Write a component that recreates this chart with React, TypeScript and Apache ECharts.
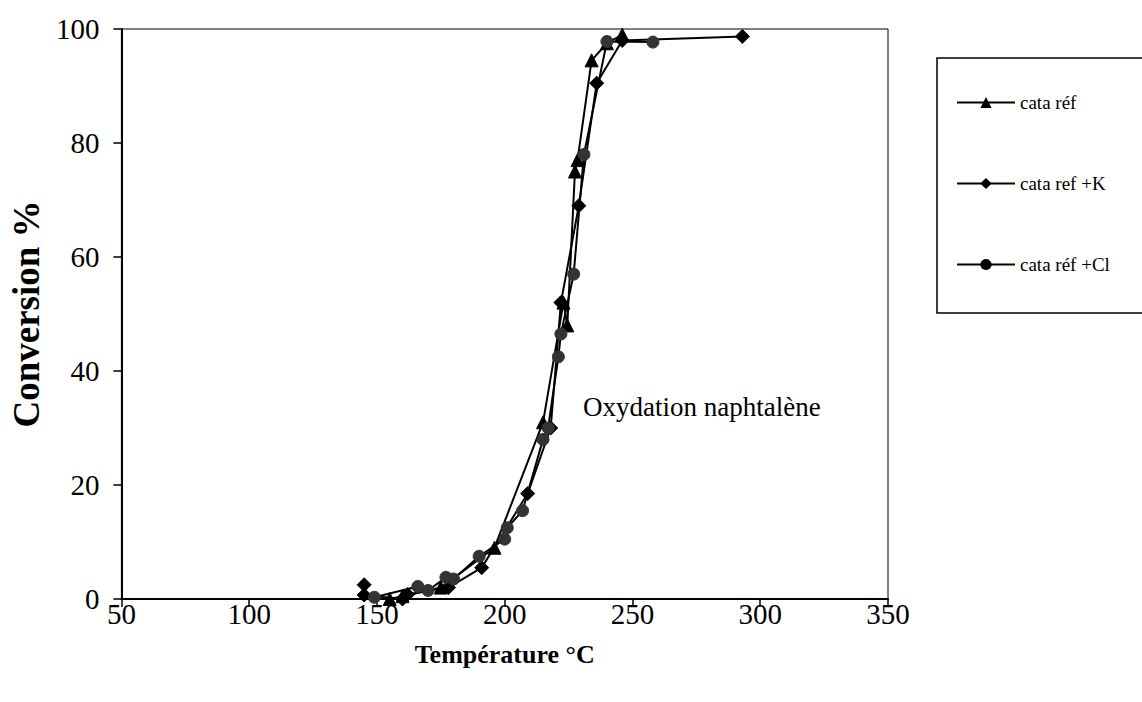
import React, { useEffect, useRef } from "react";
import * as echarts from "echarts";

const xTicks = [50, 100, 150, 200, 250, 300, 350];
const yTicks = [0, 20, 40, 60, 80, 100];

const refT = [155, 160, 175, 196, 215, 223, 224.5, 227.5, 228.5, 234, 240, 246];
const refC = [0, 0.5, 2, 9, 31, 52, 48, 75, 77, 94.5, 97.5, 99];

const kT = [145, 145, 160, 162, 178, 191, 209, 218, 222, 229, 236, 246, 293];
const kC = [2.5, 0.7, 0, 0.8, 2, 5.5, 18.5, 30, 52, 69, 90.5, 98, 98.7];

const clT = [149, 166, 170, 177, 180, 190, 200, 201, 207, 215, 217, 221, 222, 227, 231, 240, 258];
const clC = [0.3, 2.2, 1.5, 3.8, 3.5, 7.5, 10.5, 12.5, 15.5, 28, 30, 42.5, 46.5, 57, 78, 97.8, 97.7];

const seriesNames = ["cata réf", "cata ref +K", "cata réf +Cl"];

const pair = (xs: number[], ys: number[]) => xs.map((x, i) => [x, ys[i]]);

export default function App() {
  const ref = useRef<HTMLDivElement>(null);
  useEffect(() => {
    const chart = echarts.init(ref.current!, null, { renderer: "svg" });
    const font = "Liberation Serif";
    const mk = (name: string, data: number[][], symbol: string, size: number, color: string) => ({
      name,
      type: "line",
      data,
      symbol,
      symbolSize: size,
      lineStyle: { color: "#000", width: 2 },
      itemStyle: { color, borderColor: color },
      z: 3,
    });
    chart.setOption({
      animation: false,
      backgroundColor: "#fff",
      grid: {
        left: 119,
        right: 254,
        top: 29,
        bottom: 103,
        show: true,
        borderColor: "#000",
        borderWidth: 1,
      },
      xAxis: {
        type: "value",
        min: 50,
        max: 350,
        interval: 50,
        name: "Température °C",
        nameLocation: "middle",
        nameGap: 42,
        nameTextStyle: { fontFamily: font, fontSize: 26, fontWeight: "bold", color: "#000" },
        axisLine: { show: true, lineStyle: { color: "#000", width: 2 } },
        axisTick: { show: true, length: 8, lineStyle: { color: "#000", width: 1.5 } },
        axisLabel: { fontFamily: font, fontSize: 29, color: "#000", margin: 0 },
        splitLine: { show: false },
      },
      yAxis: {
        type: "value",
        min: 0,
        max: 100,
        interval: 20,
        name: "Conversion %",
        nameLocation: "middle",
        nameGap: 76,
        nameTextStyle: { fontFamily: font, fontSize: 37, fontWeight: "bold", color: "#000" },
        axisLine: { show: true, lineStyle: { color: "#000", width: 2 } },
        axisTick: { show: true, length: 8, lineStyle: { color: "#000", width: 1.5 } },
        axisLabel: { fontFamily: font, fontSize: 29, color: "#000", margin: 22 },
        splitLine: { show: false },
      },
      legend: {
        orient: "vertical",
        left: 951,
        top: 88,
        itemGap: 62,
        itemWidth: 58,
        itemHeight: 14,
        itemStyle: { color: "#000" },
        textStyle: { fontFamily: font, fontSize: 19, color: "#000" },
        data: seriesNames,
      },
      graphic: [
        {
          type: "rect",
          shape: { x: 937, y: 58, width: 220, height: 255 },
          style: { fill: "none", stroke: "#000", lineWidth: 1.5 },
          silent: true,
        },
        {
          type: "text",
          left: 583,
          top: 393,
          style: { text: "Oxydation naphtalène", fontFamily: font, fontSize: 27, fill: "#000" },
        },
      ],
      series: [
        mk(seriesNames[0], pair(refT, refC), "triangle", 13, "#000"),
        mk(seriesNames[1], pair(kT, kC), "diamond", 14, "#000"),
        mk(seriesNames[2], pair(clT, clC), "circle", 12, "#333"),
      ],
    });
    return () => chart.dispose();
  }, []);
  return (
    <div
      ref={ref}
      style={{ position: "fixed", left: 0, top: 0, width: 1142, height: 702, background: "#fff" }}
    />
  );
}
